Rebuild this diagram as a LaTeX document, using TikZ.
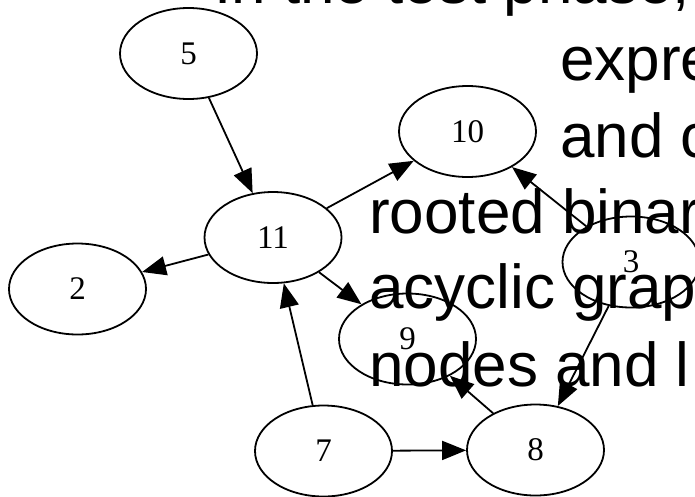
\documentclass[tikz,border=0pt]{standalone}
\usepackage{fontspec}
\setmainfont{Liberation Serif}
\newfontfamily\overlayfont{Liberation Sans}
\usetikzlibrary{arrows.meta,shapes.geometric}
\tikzset{
  gnode/.style={draw=black, ellipse, line width=1.8pt, inner sep=0pt,
    minimum width=137pt, minimum height=91pt,
    font=\fontsize{33}{40}\selectfont},
  gedge/.style={draw=black, line width=1.8pt,
    -{Triangle[length=24pt,width=19pt]}},
  overlay line/.style={anchor=base west, inner sep=0pt,
    font=\overlayfont\fontsize{62}{74}\selectfont}
}
\begin{document}
\begin{tikzpicture}[x=1pt,y=-1pt]
  \path[use as bounding box, clip] (0,0) rectangle (695,496);
  \node[gnode] (n5)  at (188.5,53.5) {5};
  \node[gnode] (n11) at (273,237.5) {11};
  \node[gnode] (n2)  at (77.5,289) {2};
  \node[gnode] (n7)  at (323.5,451) {7};
  \node[gnode] (n8)  at (535.5,450) {8};
  \node[gnode] (n10) at (467.5,131.5) {10};
  \node[gnode] (n9)  at (407.5,339) {9};
  \node[gnode] (n3)  at (631,262) {3};
  \draw[gedge] (n5) -- (n11);
  \draw[gedge] (n11) -- (n2);
  \draw[gedge] (n11) -- (n10);
  \draw[gedge] (n11) -- (n9);
  \draw[gedge] (n7) -- (n11);
  \draw[gedge] (n7) -- (n8);
  \draw[gedge] (n8) -- (n9);
  \draw[gedge] (n3) -- (n8);
  \draw[gedge] (n3) -- (n10);
  \node[overlay line] (t1) at (214,3) {In the test phase,};
  \node[overlay line] (t2) at (560,80) {expre};
  \node[overlay line] (t3) at (560,157) {and c};
  \node[overlay line] (t4) at (369,233) {rooted binar};
  \node[overlay line] (t5) at (369,308) {acyclic grap};
  \node[overlay line] (t6) at (369,386) {nodes and l};
\end{tikzpicture}
\end{document}
